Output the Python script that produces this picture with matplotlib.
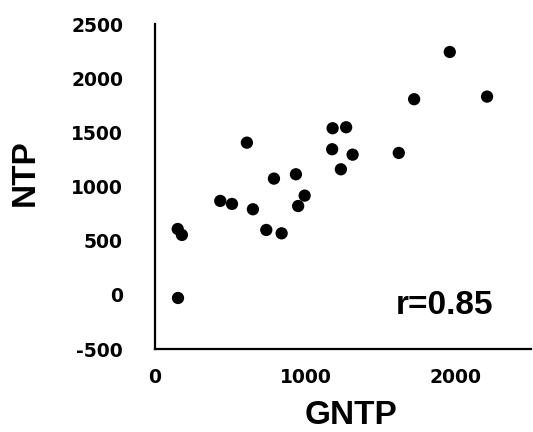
import matplotlib
matplotlib.use("Agg")
import matplotlib.pyplot as plt

plt.rcParams["axes.unicode_minus"] = False

# GNTP vs NTP values per sample
gntp = [1960, 1723, 2208, 1181, 1271, 611, 1178, 1314, 1621, 1236, 791,
        937, 995, 952, 434, 512, 651, 740, 842, 151, 179, 153]
ntp = [2242, 1806, 1830, 1538, 1547, 1405, 1344, 1294, 1310, 1159, 1073,
       1113, 916, 820, 867, 839, 790, 599, 568, 608, 553, -29]
r_text = "r=0.85"

xticks = [0, 1000, 2000]
yticks = [-500, 0, 500, 1000, 1500, 2000, 2500]

fig = plt.figure(figsize=(5.33, 4.32), dpi=100)
ax = fig.add_axes([0.2908, 0.1921, 0.7054, 0.7523])

ax.scatter(gntp, ntp, s=78, color="black", edgecolors="none", zorder=3)

ax.set_xlim(0, 2500)
ax.set_ylim(-500, 2500)
ax.set_xticks(xticks)
ax.set_yticks(yticks)
ax.tick_params(length=0)
ax.tick_params(axis="y", pad=23)
ax.tick_params(axis="x", pad=14)
for lab in ax.get_xticklabels() + ax.get_yticklabels():
    lab.set_fontfamily("DejaVu Sans")
    lab.set_fontweight("bold")
    lab.set_fontsize(13.5)

for side in ["top", "right"]:
    ax.spines[side].set_visible(False)
for side in ["left", "bottom"]:
    ax.spines[side].set_linewidth(1.6)
    ax.spines[side].set_color("black")

fig.text(351 / 533, 1 - 416 / 432, "GNTP", ha="center", va="center",
         fontsize=24, fontweight="bold", family="Liberation Sans")
fig.text(25 / 533, 1 - 173 / 432, "NTP", ha="center", va="center",
         rotation=90, fontsize=24, fontweight="bold", family="Liberation Sans")
ax.text(0.77, 0.135, r_text, transform=ax.transAxes, ha="center", va="center",
        fontsize=24, fontweight="bold", family="Liberation Sans")

fig.savefig("out.png", dpi=100)
